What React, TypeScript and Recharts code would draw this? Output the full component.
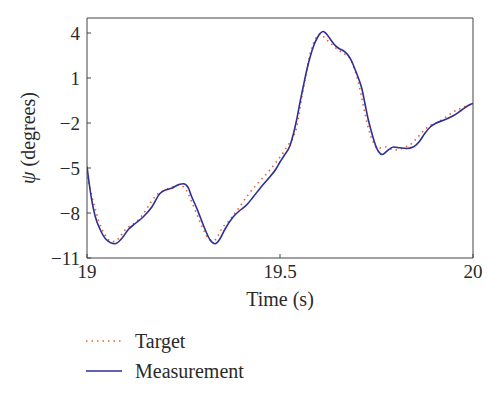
import { LineChart, Line, XAxis, YAxis, Label } from "recharts";

// psi tracking: target vs measured, 19–20 s

const serif = "'Liberation Serif', 'DejaVu Serif', serif";
const ink = "#2a2a2a";
const axisInk = "#444";
const targetColor = "#e8612c";
const measColor = "#2e2f96";

const timeTicks = [19, 19.5, 20];
const psiTicks = [-11, -8, -5, -2, 1, 4];

const measT = [
    19.0, 19.005, 19.012, 19.021, 19.034, 19.051, 19.072, 19.09, 19.107, 19.125,
    19.146, 19.168, 19.189, 19.205, 19.219, 19.238, 19.25, 19.262, 19.271, 19.283,
    19.293, 19.306, 19.319, 19.332, 19.345, 19.357, 19.379, 19.395, 19.414, 19.43,
    19.448, 19.47, 19.49, 19.5, 19.51, 19.526, 19.535, 19.543, 19.552, 19.56,
    19.57, 19.578, 19.588, 19.597, 19.605, 19.612, 19.62, 19.63, 19.64, 19.651,
    19.665, 19.677, 19.686, 19.694, 19.703, 19.712, 19.72, 19.728, 19.736, 19.745,
    19.755, 19.765, 19.778, 19.794, 19.81, 19.828, 19.845, 19.862, 19.875, 19.89,
    19.905, 19.925, 19.95, 19.97, 19.99, 20.0,
];
const measPsi = [
    -4.9, -5.9, -7.1, -8.2, -9.1, -9.8, -10.05, -9.7, -9.1, -8.7,
    -8.25, -7.6, -6.7, -6.45, -6.35, -6.1, -6.05, -6.3, -6.9, -7.6,
    -8.25, -9.1, -9.8, -10.05, -9.7, -9.1, -8.25, -7.85, -7.45, -6.95,
    -6.36, -5.7, -5.05, -4.6, -4.2, -3.5, -2.7, -1.8, -0.6, 0.4,
    1.6, 2.4, 3.2, 3.7, 4.0, 4.1, 3.95, 3.6, 3.25, 3.0,
    2.8, 2.5, 2.1, 1.6, 1.0, 0.3, -0.7, -1.7, -2.5, -3.3,
    -3.9, -4.1, -3.85, -3.6, -3.65, -3.7, -3.6, -3.2, -2.7, -2.25,
    -2.0, -1.8, -1.5, -1.15, -0.8, -0.7,
];

const targT = [
    19.0, 19.01, 19.02, 19.03, 19.045, 19.06, 19.072, 19.085, 19.098, 19.115,
    19.129, 19.15, 19.165, 19.178, 19.2, 19.224, 19.24, 19.252, 19.262, 19.272,
    19.283, 19.293, 19.305, 19.316, 19.328, 19.34, 19.35, 19.365, 19.375, 19.395,
    19.42, 19.445, 19.47, 19.49, 19.505, 19.52, 19.535, 19.543, 19.55, 19.557,
    19.565, 19.572, 19.58, 19.588, 19.597, 19.605, 19.615, 19.625, 19.64, 19.655,
    19.668, 19.68, 19.69, 19.7, 19.71, 19.72, 19.733, 19.742, 19.752, 19.762,
    19.775, 19.79, 19.805, 19.82, 19.837, 19.855, 19.872, 19.89, 19.905, 19.93,
    19.95, 19.975, 20.0,
];
const targPsi = [
    -5.6, -6.6, -7.6, -8.5, -9.4, -9.85, -9.9, -9.6, -9.15, -8.8,
    -8.55, -7.9, -7.3, -6.85, -6.5, -6.25, -6.15, -6.3, -6.7, -7.3,
    -8.0, -8.6, -9.3, -9.75, -9.85, -9.5, -9.0, -8.6, -8.3, -7.6,
    -6.7, -5.95, -5.25, -4.6, -4.1, -3.5, -2.9, -2.3, -1.3, -0.2,
    0.9, 1.9, 2.8, 3.4, 3.8, 3.95, 3.7, 3.45, 3.1, 2.8,
    2.6, 2.35, 1.8, 1.0, -0.1, -1.35, -2.7, -3.3, -3.7, -3.65,
    -3.6, -3.75, -3.8, -3.65, -3.45, -3.0, -2.5, -2.15, -2.0, -1.6,
    -1.25, -0.95, -0.7,
];

const measurement = measT.map((t, i) => ({ t, psi: measPsi[i] }));
const target = targT.map((t, i) => ({ t, psi: targPsi[i] }));

const legendItems = [
    { name: "Target", color: targetColor, dash: "1.5 4" },
    { name: "Measurement", color: measColor, dash: undefined },
];

const tickStyle = { fontSize: 19, fontFamily: serif, fill: ink };
const fmt = (v: number) => String(v).replace("-", "\u2212");

export default function App() {
    return (
        <div style={{ position: "absolute", left: 0, top: 0, width: 500, height: 395, background: "#fff" }}>
            <LineChart width={500} height={395} margin={{ top: 17, right: 26, bottom: 77, left: 0 }}>
                <XAxis
                    dataKey="t"
                    type="number"
                    domain={[19, 20]}
                    ticks={timeTicks}
                    tickFormatter={fmt}
                    height={60}
                    stroke={axisInk}
                    tickSize={-4}
                    tickMargin={11}
                    tick={tickStyle}
                    allowDataOverflow
                >
                    <Label
                        content={() => (
                            <text x={280} y={306} textAnchor="middle" fontSize={20} fontFamily={serif} fill={ink}>
                                Time (s)
                            </text>
                        )}
                    />
                </XAxis>
                <XAxis
                    xAxisId="top"
                    orientation="top"
                    dataKey="t"
                    type="number"
                    domain={[19, 20]}
                    ticks={timeTicks}
                    height={1}
                    stroke={axisInk}
                    tickSize={-4}
                    tick={false}
                />
                <YAxis
                    type="number"
                    domain={[-11, 5]}
                    ticks={psiTicks}
                    tickFormatter={fmt}
                    width={87}
                    stroke={axisInk}
                    tickSize={-4}
                    tickMargin={11}
                    tick={tickStyle}
                    allowDataOverflow
                >
                    <Label
                        content={() => (
                            <text
                                x={35}
                                y={138}
                                transform="rotate(-90 35 138)"
                                textAnchor="middle"
                                fontSize={20}
                                fontFamily={serif}
                                fill={ink}
                            >
                                <tspan fontStyle="italic">ψ</tspan> (degrees)
                            </text>
                        )}
                    />
                </YAxis>
                <YAxis
                    yAxisId="right"
                    orientation="right"
                    type="number"
                    domain={[-11, 5]}
                    ticks={psiTicks}
                    width={1}
                    stroke={axisInk}
                    tickSize={-4}
                    tick={false}
                />
                <Line
                    data={target}
                    dataKey="psi"
                    type="monotone"
                    stroke={targetColor}
                    strokeWidth={1.6}
                    strokeDasharray="1.5 4"
                    dot={false}
                    isAnimationActive={false}
                />
                <Line
                    data={measurement}
                    dataKey="psi"
                    type="monotone"
                    stroke={measColor}
                    strokeWidth={1.6}
                    dot={false}
                    isAnimationActive={false}
                />
            </LineChart>
            <div style={{ position: "absolute", left: 86, top: 326, fontFamily: serif, fontSize: 20, color: ink }}>
                {legendItems.map((it) => (
                    <div key={it.name} style={{ display: "flex", alignItems: "center", height: 30 }}>
                        <svg width={36} height={10} style={{ marginRight: 13 }}>
                            <line x1={0} y1={5} x2={36} y2={5} stroke={it.color} strokeWidth={1.6} strokeDasharray={it.dash} />
                        </svg>
                        <span>{it.name}</span>
                    </div>
                ))}
            </div>
        </div>
    );
}
